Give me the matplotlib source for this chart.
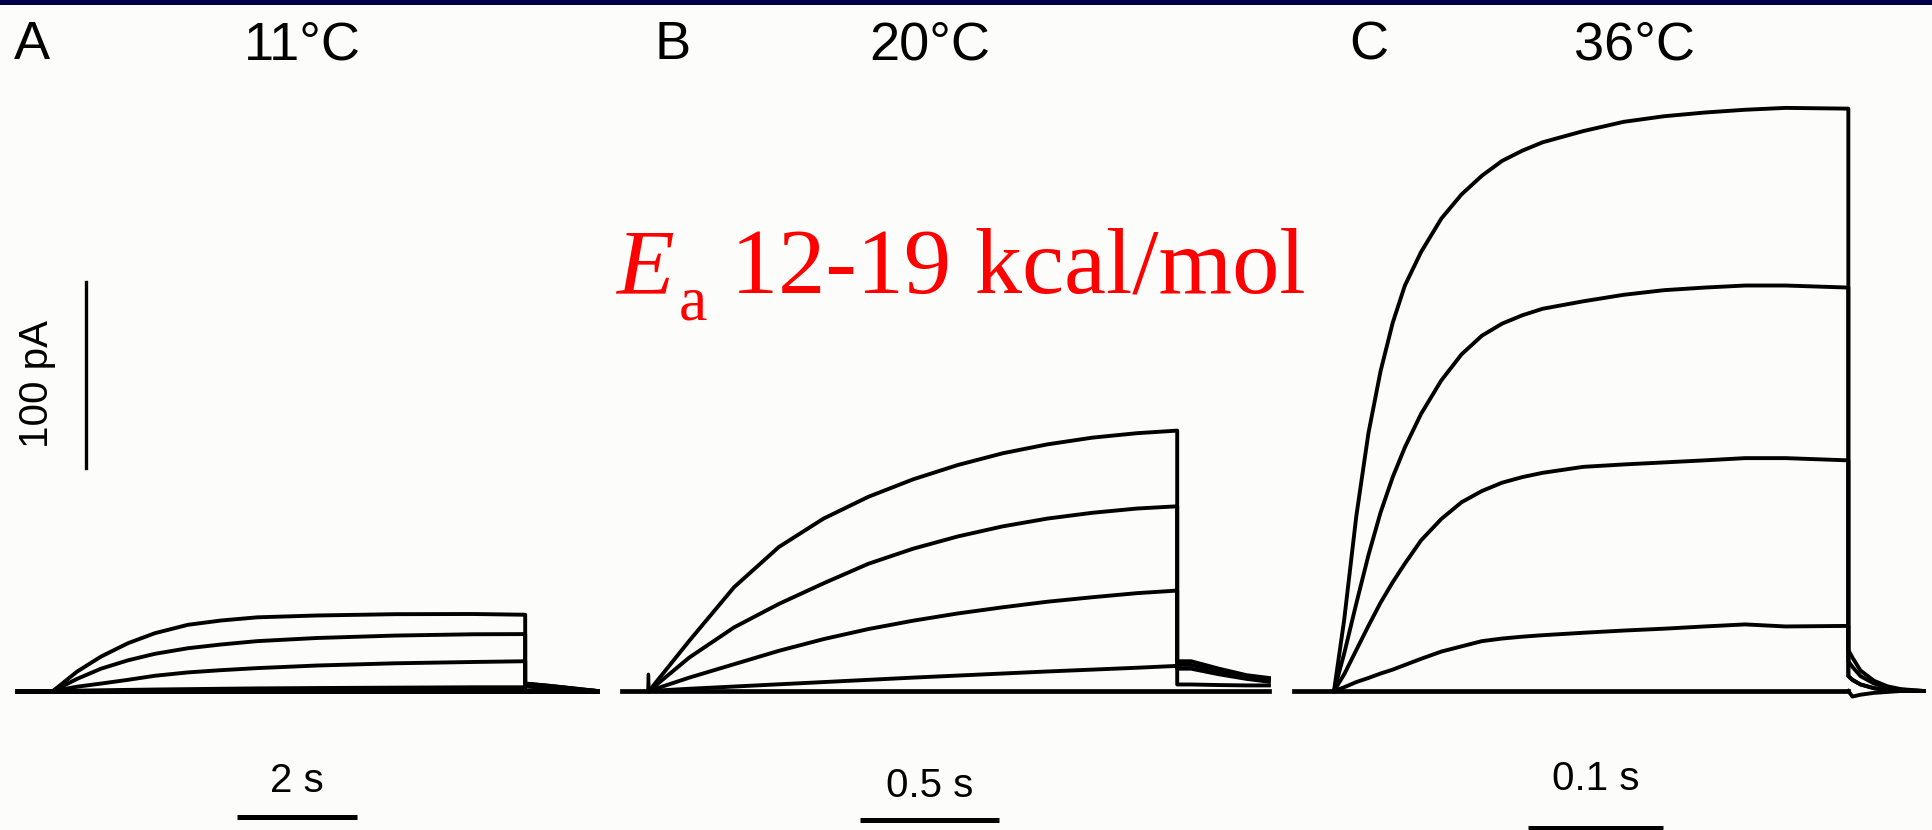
import numpy as np
import matplotlib.pyplot as plt
from matplotlib.patches import Rectangle

plt.rcParams['font.family'] = 'Liberation Sans'

# Currents in pA, time in s from step onset

# A: 11 C
a_t = [0, 0.4, 0.8, 1.25, 1.7, 2.25, 2.8, 3.4, 4.4, 5.7, 7.0, 7.87]
a_i1 = [0, 10.4, 18.5, 25.7, 31.1, 35.6, 37.9, 39.6, 40.6, 41.3, 41.4, 41.0]
a_i2 = [0, 6.5, 12.0, 16.5, 20.0, 23.0, 25.0, 26.8, 28.5, 29.8, 30.5, 30.6]
a_i3 = [0, 2.3, 4.0, 6.0, 8.2, 10.0, 11.2, 12.3, 13.7, 14.9, 15.6, 16.0]
a_i4 = [0, 0.2, 0.4, 0.6, 0.8, 1.0, 1.2, 1.4, 1.6, 1.8, 2.0, 2.0]
a_tail_t = [7.87, 8.3, 8.7, 9.07]
a_tail1 = [4.0, 2.7, 1.3, 0]
a_tail2 = [2.5, 1.6, 0.8, 0]
a_pre = -0.6

# B: 20 C
b_t = [0, 0.145, 0.306, 0.467, 0.628, 0.789, 0.95, 1.111, 1.272, 1.433, 1.594, 1.755, 1.9]
b_i1 = [0, 27, 55.8, 77.4, 92.7, 104.4, 113.8, 121.5, 127.8, 132.6, 136.2, 138.6, 140]
b_i2 = [0, 18, 34.2, 46.8, 57.9, 68.4, 76.5, 83.1, 88.5, 92.7, 95.8, 98.1, 99.3]
b_i3 = [0, 7.2, 14.4, 21.6, 27.9, 33.3, 37.8, 41.7, 45, 48, 50.4, 52.6, 54]
b_i4 = [0, 1.2, 2.4, 3.6, 4.8, 6, 7.2, 8.3, 9.4, 10.5, 11.5, 12.5, 13.5]
b_tail_t = [1.9, 1.95, 2.05, 2.15, 2.23]
b_tail1 = [16, 16, 12, 8.5, 7]
b_tail2 = [14, 14, 10.5, 7.5, 6]
b_tail3 = [12, 12, 9, 6.5, 5]
b_tail4 = [3.5, 3.5, 3.2, 3, 3]
b_pre = -0.097
b_artifact_t = [-0.004, -0.002, 0]
b_artifact_i = [0, 9, 0]

# C: 36 C
c_t = [0, 0.0075, 0.0165, 0.0255, 0.0345, 0.0435, 0.0525, 0.0645, 0.0795, 0.0945,
       0.1095, 0.1245, 0.1395, 0.1545, 0.1845, 0.2145, 0.2445, 0.2745, 0.3045, 0.3345, 0.381]
c_i1 = [0, 38, 93.9, 138.6, 172, 198, 218, 236, 254, 267,
        277, 285, 290.5, 295, 301, 306, 309, 311, 312.5, 313.5, 313.1]
c_i2 = [0, 20, 47, 73, 96, 115, 131, 149, 167, 181,
        191, 197.5, 202, 205.5, 209.5, 213, 215.5, 216.9, 218, 218, 216.9]
c_i3 = [0, 8.9, 22, 35, 47.5, 58.5, 68.5, 81, 92.5, 101.5,
        107.5, 112, 115, 117.3, 120.5, 121.8, 122.9, 124, 125.2, 125.2, 124]
c_i4 = [0, 2, 4.8, 7, 9.4, 11.5, 14, 17.3, 21.2, 24,
        26.8, 28.2, 29.2, 30, 31.3, 32.5, 33.5, 34.7, 35.8, 34.7, 35]
c_tail_t = [0.381, 0.384, 0.39, 0.40, 0.41, 0.42, 0.437]
c_tail1 = [22, 18, 11, 5.5, 2.5, 1, 0]
c_tail2 = [16, 13, 8, 4, 1.8, 0.7, 0]
c_tail3 = [8, 6, 3.5, 1.5, 0.5, 0, 0]
c_tail4 = [0, -3, -2, -1, -0.5, 0, 0]
c_pre = -0.03

W, H = 1932, 830
base_px = 691
px_per_pA = 1.86
lw = 2.8

fig = plt.figure(figsize=(W / 100, H / 100), dpi=100, facecolor='#fcfcfa')
fig.add_artist(Rectangle((0, 1 - 5 / H), 1, 5 / H, transform=fig.transFigure,
                         facecolor='#00004a', edgecolor='none'))


def panel(onset_px, px_per_s):
    ax = fig.add_axes([0, 0, 1, 1])
    ax.set_xlim(-onset_px / px_per_s, (W - onset_px) / px_per_s)
    ax.set_ylim(-(H - base_px) / px_per_pA, base_px / px_per_pA)
    ax.axis('off')
    ax.patch.set_alpha(0)
    return ax


def trace(ax, t, i, tt, ti):
    ax.plot(np.concatenate([t, tt]), np.concatenate([i, ti]),
            color='black', lw=lw, solid_joinstyle='round')


def fx(px):
    return px / W


def fy(px):
    return 1 - px / H


axA = panel(53, 60)
axB = panel(649, 278)
axC = panel(1334, 1350)

# baselines
axA.plot([a_pre, a_tail_t[-1]], [0, 0], color='black', lw=3.6)
axB.plot([b_pre, b_tail_t[-1]], [0, 0], color='black', lw=3.4)
axC.plot([c_pre, c_t[-1]], [0, 0], color='black', lw=3.4)
axC.plot(c_tail_t, c_tail4, color='black', lw=lw)
axB.plot(b_artifact_t, b_artifact_i, color='black', lw=2.4)

trace(axA, a_t, a_i1, a_tail_t, a_tail1)
trace(axA, a_t, a_i2, a_tail_t, a_tail1)
trace(axA, a_t, a_i3, a_tail_t, a_tail2)
trace(axA, a_t, a_i4, a_tail_t, a_tail2)

trace(axB, b_t, b_i1, b_tail_t, b_tail1)
trace(axB, b_t, b_i2, b_tail_t, b_tail2)
trace(axB, b_t, b_i3, b_tail_t, b_tail3)
trace(axB, b_t, b_i4, b_tail_t, b_tail4)

trace(axC, c_t, c_i1, c_tail_t, c_tail1)
trace(axC, c_t, c_i2, c_tail_t, c_tail2)
trace(axC, c_t, c_i3, c_tail_t, c_tail3)
trace(axC, c_t, c_i4, c_tail_t, c_tail3)

# scale bars
axA.plot([0.55, 0.55], [120, 220], color='black', lw=2.4)
fig.text(fx(37), fy(384), '100 pA', rotation=90, ha='center', va='center', fontsize=29)

for ax, t0, dt, y, label, ty in [(axA, 3.07, 2.0, -67.7, '2 s', -54.3),
                                  (axB, 0.76, 0.5, -69.4, '0.5 s', -57.0),
                                  (axC, 0.144, 0.1, -73.7, '0.1 s', -53.2)]:
    ax.plot([t0, t0 + dt], [y, y], color='black', lw=3.6, solid_capstyle='butt')
    ax.text(t0 + dt / 2, ty, label, ha='center', va='baseline', fontsize=29)

# panel labels and temperatures
for x, s in [(32, 'A'), (302, '11°C'), (673, 'B'), (930, '20°C'),
             (1369, 'C'), (1634, '36°C')]:
    fig.text(fx(x), fy(59), s, ha='center', va='baseline', fontsize=39)

# activation energy, E with a lowered subscript a
red = dict(color='red', family='Liberation Serif', va='baseline')
fig.text(fx(616), fy(293), 'E', fontsize=68, style='italic', **red)
fig.text(fx(679), fy(319), 'a', fontsize=46, **red)
fig.text(fx(731), fy(293), '12-19 kcal/mol', fontsize=68, **red)

fig.savefig('out.png', dpi=100, facecolor=fig.get_facecolor())
